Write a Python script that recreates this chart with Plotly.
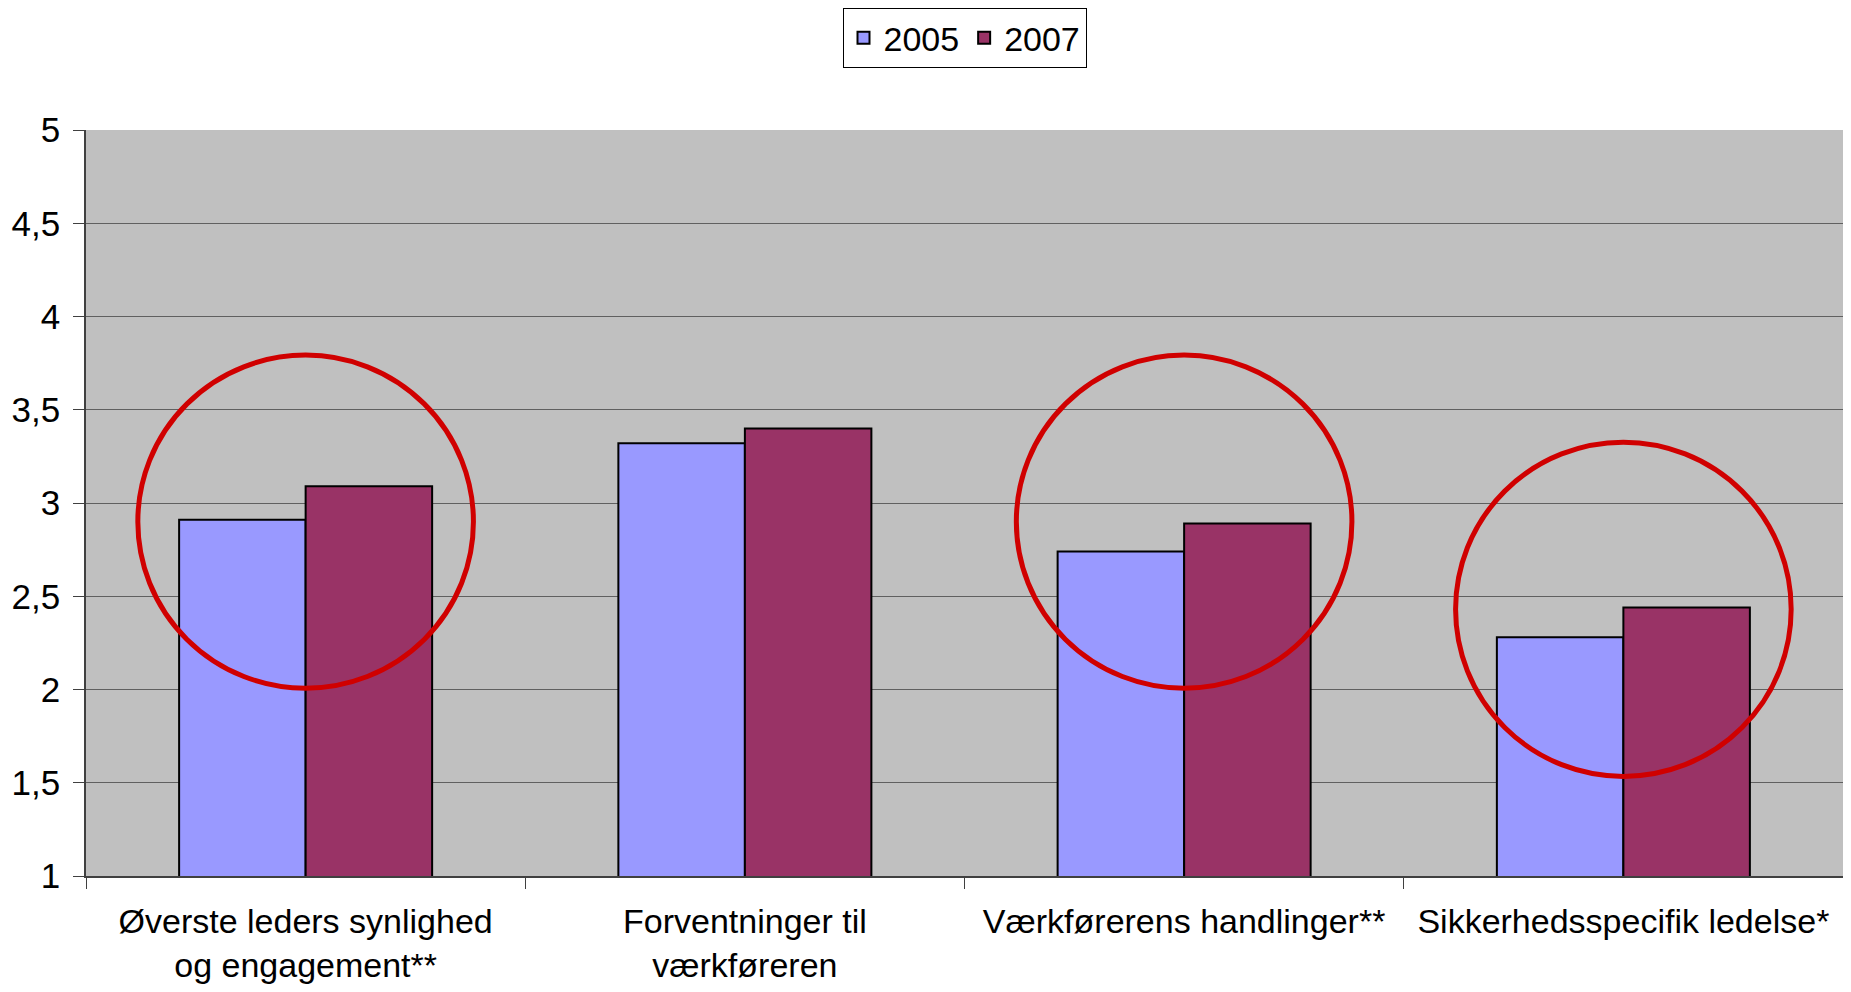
import plotly.graph_objects as go

categories = ["Øverste leders synlighed<br>og engagement**",
              "Forventninger til<br>værkføreren",
              "Værkførerens handlinger**",
              "Sikkerhedsspecifik ledelse*"]
values_2005 = [2.91, 3.32, 2.74, 2.28]
values_2007 = [3.09, 3.40, 2.89, 2.44]
series_names = ["2005", "2007"]
y_ticks = [1, 1.5, 2, 2.5, 3, 3.5, 4, 4.5, 5]
y_tick_labels = ["1", "1,5", "2", "2,5", "3", "3,5", "4", "4,5", "5"]

# highlight circles: category index, centre value, radius (category units), radius (value units)
circle_cat = [0, 2, 3]
circle_y = [2.90, 2.90, 2.43]
circle_rx = [0.382, 0.382, 0.382]
circle_ry = [0.893, 0.893, 0.896]

FONT = "Liberation Sans, Arial, sans-serif"

fig = go.Figure()
fig.add_trace(go.Bar(name=series_names[0], x=categories, y=values_2005,
                     marker=dict(color="#9999FF", line=dict(color="black", width=2))))
fig.add_trace(go.Bar(name=series_names[1], x=categories, y=values_2007,
                     marker=dict(color="#993366", line=dict(color="black", width=2))))

for cx, cy, rx, ry in zip(circle_cat, circle_y, circle_rx, circle_ry):
    fig.add_shape(type="circle", xref="x", yref="y",
                  x0=cx - rx, x1=cx + rx, y0=cy - ry, y1=cy + ry,
                  line=dict(color="#D00000", width=5), layer="above")

fig.update_layout(
    width=1843, height=984,
    margin=dict(l=78, r=8, t=122, b=116, autoexpand=False),
    paper_bgcolor="white", plot_bgcolor="#C0C0C0",
    barmode="group", bargap=0.424, bargroupgap=0,
    font=dict(family=FONT, size=34, color="black"),
    legend=dict(orientation="h", x=0.5, xanchor="center", y=1.1635, yanchor="top",
                bgcolor="white", bordercolor="black", borderwidth=1,
                font=dict(size=34), itemwidth=30, traceorder="normal"),
    showlegend=True,
)
fig.update_xaxes(
    range=[-0.5, 3.5], tickson="boundaries", ticks="outside", ticklen=11,
    tickcolor="#404040", showline=True, linecolor="#404040", linewidth=1.5,
    showgrid=False, tickfont=dict(size=34), automargin=False, ticklabelstandoff=14,
)
fig.update_yaxes(
    range=[1, 5], tickvals=y_ticks, ticktext=y_tick_labels,
    ticks="outside", ticklen=11, tickcolor="#404040",
    showline=True, linecolor="#404040", linewidth=1.5,
    showgrid=True, gridcolor="#606060", gridwidth=1,
    zeroline=False, tickfont=dict(size=35), automargin=False, ticklabelstandoff=6,
)

fig.write_html("out.html")
